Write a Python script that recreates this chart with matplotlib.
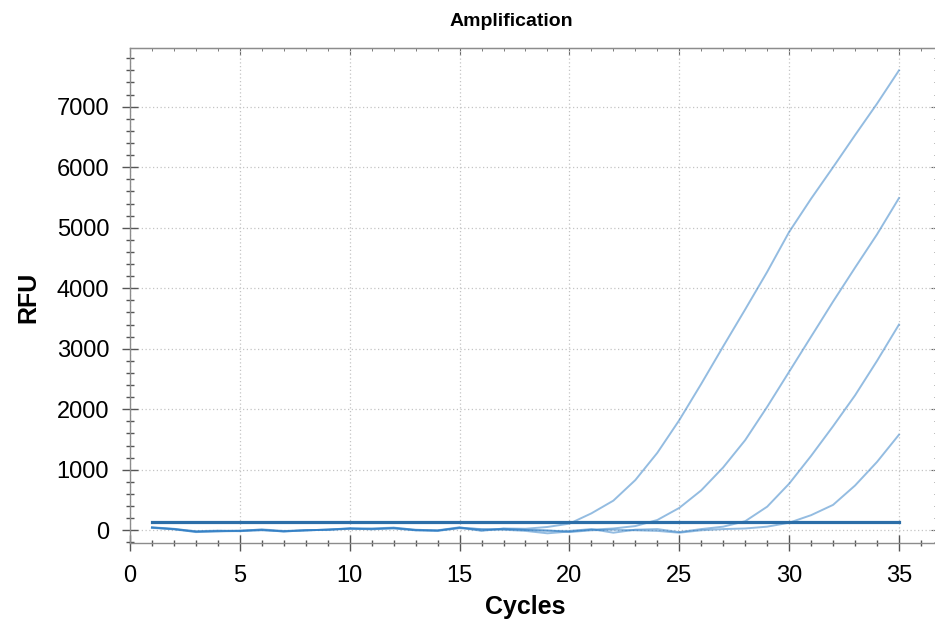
import matplotlib
matplotlib.use("Agg")
import matplotlib.pyplot as plt
from matplotlib.ticker import MultipleLocator

plt.rcParams['font.family'] = ['Liberation Sans', 'DejaVu Sans']

cycles = list(range(1, 36))

# RFU per cycle for the four amplification traces
rfu_a = [50, 25, -20, -15, -5, 10, -20, 0, 10, 35, 30, 45, 5, 0, 50, -10, 30, 25, 55, 110,
         280, 490, 830, 1280, 1820, 2420, 3040, 3650, 4270, 4930, 5480, 6000, 6530, 7050, 7600]
rfu_b = [45, 20, -30, -20, -10, 15, -10, -5, 15, 25, 20, 40, 10, -5, 40, 20, 10, -10, -50, -20,
         10, 30, 70, 170, 370, 660, 1040, 1490, 2040, 2620, 3200, 3780, 4340, 4890, 5490]
rfu_c = [40, 15, -25, -10, -15, 5, -20, 0, 10, 30, 15, 35, 0, -10, 35, 0, 25, 5, -10, -10,
         20, -40, 10, 20, -30, 20, 60, 150, 390, 770, 1230, 1720, 2230, 2800, 3400]
rfu_d = [45, 20, -15, -5, -10, 0, -15, 5, 5, 25, 25, 30, 0, -5, 45, 15, 15, 10, 0, -30,
         0, 10, 0, -10, -40, 0, 20, 30, 60, 125, 250, 420, 740, 1130, 1580]
traces = [rfu_a, rfu_b, rfu_c, rfu_d]

threshold = 135
threshold_span = [1, 35]

fig = plt.figure(figsize=(9.35, 6.24), dpi=100)
ax = fig.add_axes([130 / 935, 81 / 624, 807 / 935, 495 / 624])

for rfu in traces:
    ax.plot(cycles, rfu, color='#2a7bc4', alpha=0.5, lw=1.4)
ax.plot(threshold_span, [threshold, threshold], color='#2c6ea8', lw=2.3)

ax.set_xlim(0, 36.73)
ax.set_ylim(-210, 7970)

ax.xaxis.set_major_locator(MultipleLocator(5))
ax.xaxis.set_minor_locator(MultipleLocator(1))
ax.yaxis.set_major_locator(MultipleLocator(1000))
ax.yaxis.set_minor_locator(MultipleLocator(200))

ax.grid(True, which='major', color='#c4c4c4', linestyle=(0, (1, 2)), lw=0.9)

for s in ax.spines.values():
    s.set_color('#8c8c8c')
    s.set_linewidth(1.0)
ax.spines['right'].set_visible(False)

ax.tick_params(axis='both', which='both', direction='inout', color='#555555',
               labelsize=17, width=1.0)
ax.tick_params(axis='x', which='major', length=11, pad=10)
ax.tick_params(axis='x', which='minor', length=5)
ax.tick_params(axis='y', which='major', length=12, pad=9)
ax.tick_params(axis='y', which='minor', length=6)

top = ax.secondary_xaxis('top')
top.xaxis.set_major_locator(MultipleLocator(5))
top.xaxis.set_minor_locator(MultipleLocator(1))
top.tick_params(which='major', direction='in', length=5, color='#666666', labeltop=False)
top.tick_params(which='minor', direction='in', length=2.5, color='#666666')
top.spines['top'].set_color('#8c8c8c')

right = ax.secondary_yaxis('right')
right.yaxis.set_major_locator(MultipleLocator(1000))
right.yaxis.set_minor_locator(MultipleLocator(200))
right.tick_params(which='major', direction='in', length=4, color='#666666', labelright=False)
right.tick_params(which='minor', direction='in', length=2.5, color='#666666')
right.spines['right'].set_visible(False)

fig.text(511 / 935, 1 - 22 / 624, 'Amplification', ha='center', va='center',
         fontsize=14, fontweight='bold')
fig.text(525 / 935, 1 - 607 / 624, 'Cycles', ha='center', va='center',
         fontsize=18, fontweight='bold')
fig.text(28 / 935, 1 - 297 / 624, 'RFU', ha='center', va='center', rotation=90,
         fontsize=18, fontweight='bold')

fig.savefig('out.png', dpi=100)
